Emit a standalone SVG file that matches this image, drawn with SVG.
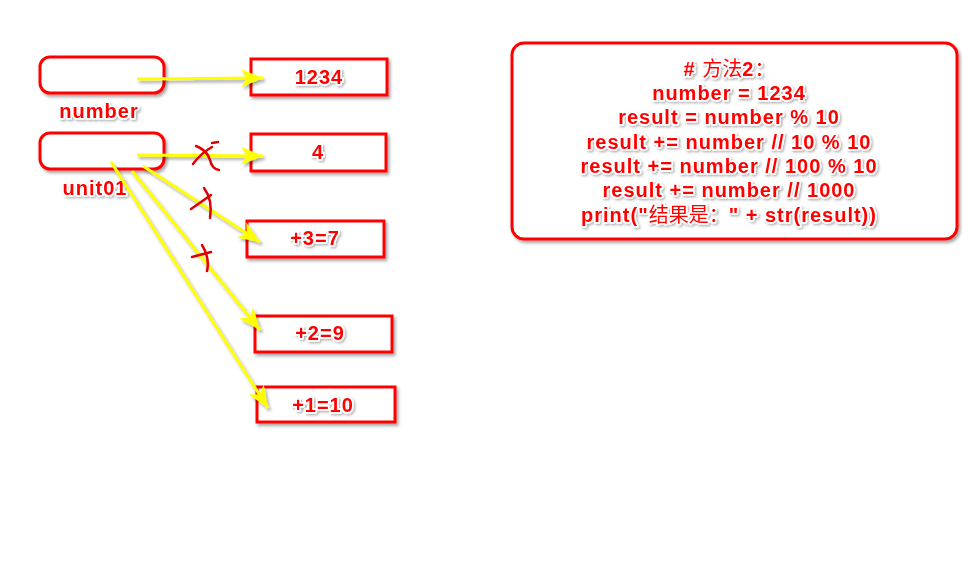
<svg xmlns="http://www.w3.org/2000/svg" width="975" height="567" viewBox="0 0 975 567">
<style>
.box{fill:#fff;stroke:#ff0000;stroke-width:3;filter:url(#sh)}
.t{font-family:"Liberation Sans","Noto Sans CJK SC",sans-serif;font-weight:bold;font-size:20px;letter-spacing:1px;fill:#ff0000;stroke:#fff;stroke-width:3.5;stroke-linejoin:round;paint-order:stroke;text-anchor:middle;filter:url(#tsh)}
.cjk{font-family:"Noto Sans CJK SC",sans-serif;font-weight:normal;letter-spacing:0}
.conn{stroke:#ffff00;stroke-width:3;fill:none;marker-end:url(#ah)}
.x{stroke:#e00000;stroke-width:2.5;fill:none;stroke-linecap:round}
</style>
<defs>
<filter id="sh" x="-20%" y="-20%" width="140%" height="150%">
<feDropShadow dx="2" dy="2.5" stdDeviation="1.5" flood-color="#000" flood-opacity="0.35"/>
</filter>
<filter id="ash" filterUnits="userSpaceOnUse" x="0" y="0" width="975" height="567">
<feDropShadow dx="2" dy="2.5" stdDeviation="1.5" flood-color="#000" flood-opacity="0.35"/>
</filter>
<filter id="tsh" x="-10%" y="-30%" width="120%" height="160%">
<feDropShadow dx="1.5" dy="1.5" stdDeviation="1" flood-color="#000" flood-opacity="0.3"/>
</filter>
<marker id="ah" markerUnits="userSpaceOnUse" markerWidth="24" markerHeight="20" refX="22" refY="9" orient="auto">
<path d="M0,0 L22,9 L0,18 L6,9 Z" fill="#ffff00"/>
</marker>
</defs>
<rect width="975" height="567" fill="#fff"/>

<g id="number">
<rect class="box" x="40" y="57" width="124" height="36" rx="10"/>
<text class="t" x="99" y="118">number</text>
</g>
<g id="unit01">
<rect class="box" x="40" y="133" width="124" height="36" rx="10"/>
<text class="t" x="95" y="195">unit01</text>
</g>
<g id="v1234">
<rect class="box" x="251" y="59" width="136" height="36"/>
<text class="t" x="319" y="84">1234</text>
</g>
<g id="v4">
<rect class="box" x="251" y="134" width="135" height="37"/>
<text class="t" x="318" y="159">4</text>
</g>
<g id="v7">
<rect class="box" x="247" y="221" width="137" height="36"/>
<text class="t" x="315" y="245">+3=7</text>
</g>
<g id="v9">
<rect class="box" x="255" y="316" width="137" height="36"/>
<text class="t" x="320" y="340">+2=9</text>
</g>
<g id="v10">
<rect class="box" x="257" y="387" width="138" height="35"/>
<text class="t" x="323" y="412">+1=10</text>
</g>

<g id="code">
<rect class="box" x="512" y="43" width="445" height="196" rx="12"/>
<text class="t" x="729" y="76"># <tspan class="cjk">方法</tspan>2<tspan class="cjk">：</tspan></text>
<text class="t" x="729" y="100">number = 1234</text>
<text class="t" x="729" y="124">result = number % 10</text>
<text class="t" x="729" y="149">result += number // 10 % 10</text>
<text class="t" x="729" y="173">result += number // 100 % 10</text>
<text class="t" x="729" y="197">result += number // 1000</text>
<text class="t" x="729" y="222">print("<tspan class="cjk">结果是：</tspan>" + str(result))</text>
</g>

<g id="connectors" filter="url(#ash)">
<line class="conn" x1="137" y1="79" x2="263" y2="78"/>
<line class="conn" x1="137" y1="155" x2="263" y2="156"/>
<line class="conn" x1="143" y1="166" x2="260" y2="242"/>
<line class="conn" x1="132" y1="171" x2="260" y2="330"/>
<line class="conn" x1="111" y1="162" x2="268" y2="408"/>
</g>

<g id="marks">
<path class="x" d="M196,146 Q207,150 210,160 Q212,169 219,170"/>
<path class="x" d="M212,147 Q201,153 193,164"/>
<path class="x" d="M212,143 L218,142"/>
<path class="x" d="M204,188 Q213,200 210,218"/>
<path class="x" d="M191,209 L211,195"/>
<path class="x" d="M202,245 Q210,258 207,271"/>
<path class="x" d="M192,257 L211,252"/>
</g>
</svg>
